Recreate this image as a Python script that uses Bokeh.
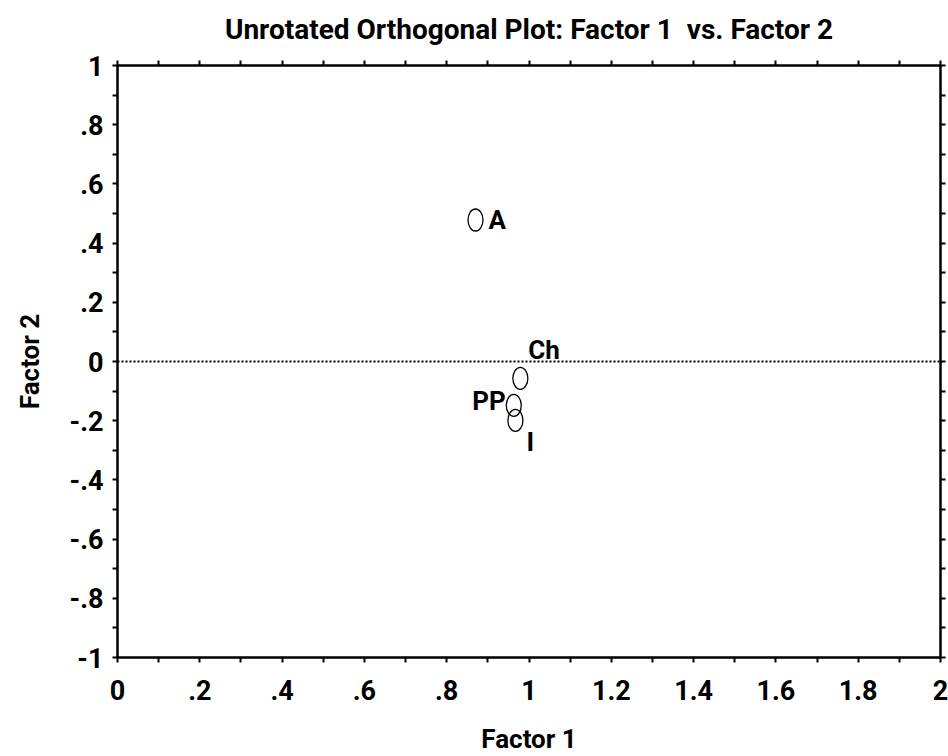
from bokeh.plotting import figure
from bokeh.models import ColumnDataSource, FixedTicker, LinearAxis, Range1d, Span
from bokeh.core.properties import value
from bokeh.embed import file_html
from bokeh.resources import INLINE

labels = ["A", "Ch", "PP", "I"]
factor1 = [0.870, 0.979, 0.963, 0.967]
factor2 = [0.478, -0.057, -0.148, -0.199]

x_ticks = [0.0, 0.2, 0.4, 0.6, 0.8, 1.0, 1.2, 1.4, 1.6, 1.8, 2.0]
x_tick_labels = ["0", ".2", ".4", ".6", ".8", "1", "1.2", "1.4", "1.6", "1.8", "2"]
x_minor = [0.1, 0.3, 0.5, 0.7, 0.9, 1.1, 1.3, 1.5, 1.7, 1.9]
y_ticks = [-1.0, -0.8, -0.6, -0.4, -0.2, 0.0, 0.2, 0.4, 0.6, 0.8, 1.0]
y_tick_labels = ["-1", "-.8", "-.6", "-.4", "-.2", "0", ".2", ".4", ".6", ".8", "1"]
y_minor = [-0.9, -0.7, -0.5, -0.3, -0.1, 0.1, 0.3, 0.5, 0.7, 0.9]

# label styling (screen offsets / alignment)
lab_dx = [13, 8, -8, 11]
lab_dy = [0, -28, -4, 22]
lab_align = ["left", "left", "right", "left"]

FONT = "Roboto"

p = figure(width=948, height=756, output_backend="svg", toolbar_location=None,
           x_range=Range1d(0, 2), y_range=Range1d(-1, 1),
           min_border_left=117, min_border_right=8, min_border_top=0, min_border_bottom=98,
           title="Unrotated Orthogonal Plot: Factor 1\u00a0\u00a0vs. Factor 2")
p.grid.visible = False
p.outline_line_color = "black"
p.outline_line_width = 2
p.background_fill_color = "white"
p.border_fill_color = "white"

p.title.align = "center"
p.title.vertical_align = "top"
p.title.text_font = FONT
p.title.text_font_size = "28px"
p.title.text_font_style = "bold"
p.title.text_color = "black"
p.title.offset = 0
p.title.standoff = 25

def style_axis(ax, ticks, minor, lab_map, show_labels):
    ax.ticker = FixedTicker(ticks=ticks, minor_ticks=minor)
    ax.major_tick_in = 0
    ax.major_tick_out = 5
    ax.minor_tick_in = 0
    ax.minor_tick_out = 5
    ax.major_tick_line_width = 2
    ax.minor_tick_line_width = 2
    ax.axis_line_width = 2
    ax.axis_line_color = "black"
    ax.major_label_text_font = FONT
    ax.major_label_text_font_size = "27px"
    ax.major_label_text_font_style = "bold"
    ax.major_label_text_color = "black"
    ax.axis_label_text_font = FONT
    ax.axis_label_text_font_size = "26px"
    ax.axis_label_text_font_style = "bold"
    ax.axis_label_text_color = "black"
    if show_labels:
        ax.major_label_overrides = lab_map
    else:
        ax.major_label_text_color = None
        ax.major_label_standoff = 0

xmap = {t: l for t, l in zip(x_ticks, x_tick_labels)}
ymap = {t: l for t, l in zip(y_ticks, y_tick_labels)}

style_axis(p.xaxis[0], x_ticks, x_minor, xmap, True)
style_axis(p.yaxis[0], y_ticks, y_minor, ymap, True)
p.xaxis[0].axis_label = "Factor 1"
p.yaxis[0].axis_label = "Factor 2"
p.xaxis[0].major_label_standoff = 17
p.xaxis[0].axis_label_standoff = 21
p.yaxis[0].major_label_standoff = 9
p.yaxis[0].axis_label_standoff = 22

top = LinearAxis()
style_axis(top, x_ticks, x_minor, xmap, False)
p.add_layout(top, "above")
right = LinearAxis()
style_axis(right, y_ticks, y_minor, ymap, False)
p.add_layout(right, "right")

p.add_layout(Span(location=0, dimension="width", line_color="black",
                  line_width=2, line_dash="2 2"))

src = ColumnDataSource(dict(x=factor1, y=factor2, lab=labels,
                            dx=lab_dx, dy=lab_dy, al=lab_align))
p.ellipse(x="x", y="y", width=15, height=22, width_units="screen", height_units="screen",
          source=src, fill_color=None, line_color="black", line_width=1.3)
p.text(x="x", y="y", text="lab", x_offset="dx", y_offset="dy", text_align="al",
       text_baseline="middle", text_font=value(FONT), text_font_size="26px",
       text_font_style="bold", text_color="black", source=src)

open("out.html", "w").write(file_html(p, INLINE))
